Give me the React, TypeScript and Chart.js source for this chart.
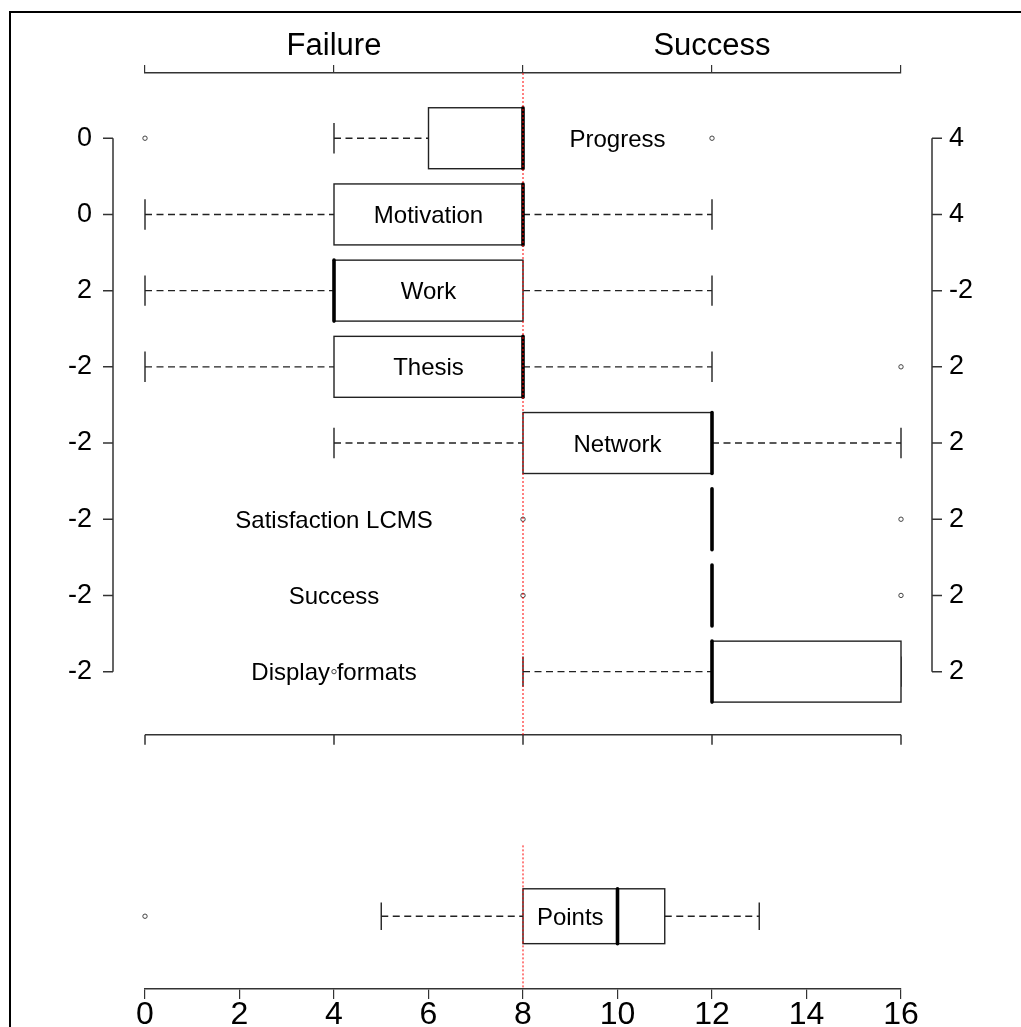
import React, { useEffect, useRef } from "react";
import { Chart, registerables } from "chart.js";

Chart.register(...registerables);

// ---------- data ----------
const categories = [
  "Progress",
  "Motivation",
  "Work",
  "Thesis",
  "Network",
  "Satisfaction LCMS",
  "Success",
  "Display formats",
];
const lowerWhisker = [4, 0, 0, 0, 4, 12, 12, 8];
const lowerQuartile = [6, 4, 4, 4, 8, 12, 12, 12];
const medians = [8, 8, 4, 8, 12, 12, 12, 12];
const upperQuartile = [8, 8, 8, 8, 12, 12, 12, 16];
const upperWhisker = [8, 12, 12, 12, 16, 12, 12, 16];
const outliers: number[][] = [[0, 12], [], [], [16], [], [8, 16], [8, 16], [4]];
const labelAt = [10, 6, 6, 6, 10, 4, 4, 4];
const leftTickLabels = ["0", "0", "2", "-2", "-2", "-2", "-2", "-2"];
const rightTickLabels = ["4", "4", "-2", "2", "2", "2", "2", "2"];

const pointsLabel = "Points";
const pointsStats = [5, 8, 10, 11, 13]; // lower whisker, Q1, median, Q3, upper whisker
const pointsOutliers = [0];
const pointsLabelAt = 9;

const groupLabels = ["Failure", "Success"];
const groupLabelValues = [4, 12];
const referenceValue = 8;

// ---------- layout constants ----------
const Y_MIN = -0.856;
const Y_MAX = 11.165;
const MID_AXIS_ROW = 7.83;
const POINTS_ROW = 10.21;
const RED_BOTTOM_START = 9.28;
const BOX_HALF = 0.4;
const POINTS_BOX_HALF = 0.36;
const FONT = '"Liberation Sans", Arial, sans-serif';

function drawBoxplot(
  ctx: CanvasRenderingContext2D,
  xs: any,
  ys: any,
  row: number,
  half: number,
  lo: number,
  q1: number,
  med: number,
  q3: number,
  hi: number
) {
  const px = (v: number) => xs.getPixelForValue(v);
  const cy = ys.getPixelForValue(row);
  const hh = Math.abs(ys.getPixelForValue(row + half) - cy);
  const line = (x1: number, y1: number, x2: number, y2: number) => {
    ctx.beginPath();
    ctx.moveTo(x1, y1);
    ctx.lineTo(x2, y2);
    ctx.stroke();
  };
  ctx.save();
  ctx.strokeStyle = "#222";
  ctx.lineWidth = 1.4;
  ctx.setLineDash([7, 4.5]);
  if (q1 > lo) line(px(lo), cy, px(q1), cy);
  if (hi > q3) line(px(q3), cy, px(hi), cy);
  ctx.setLineDash([]);
  line(px(lo), cy - hh / 2, px(lo), cy + hh / 2);
  line(px(hi), cy - hh / 2, px(hi), cy + hh / 2);
  if (q3 > q1) {
    ctx.fillStyle = "#fff";
    ctx.fillRect(px(q1), cy - hh, px(q3) - px(q1), 2 * hh);
    ctx.strokeRect(px(q1), cy - hh, px(q3) - px(q1), 2 * hh);
  }
  ctx.strokeStyle = "#000";
  ctx.lineWidth = 3.6;
  ctx.lineCap = "round";
  line(px(med), cy - hh, px(med), cy + hh);
  ctx.restore();
}

const customPlugin = {
  id: "rBoxplot",
  beforeDraw(chart: any) {
    const ctx: CanvasRenderingContext2D = chart.ctx;
    ctx.save();
    ctx.fillStyle = "#fff";
    ctx.fillRect(0, 0, chart.width, chart.height);
    ctx.strokeStyle = "#000";
    ctx.lineWidth = 2;
    ctx.beginPath();
    ctx.moveTo(10, chart.height);
    ctx.lineTo(10, 12);
    ctx.lineTo(chart.width, 12);
    ctx.stroke();
    ctx.restore();
  },
  beforeDatasetsDraw(chart: any) {
    const ctx: CanvasRenderingContext2D = chart.ctx;
    const xs = chart.scales.x;
    const ys = chart.scales.y;
    const area = chart.chartArea;

    categories.forEach((_, i) => {
      drawBoxplot(ctx, xs, ys, i, BOX_HALF, lowerWhisker[i], lowerQuartile[i], medians[i], upperQuartile[i], upperWhisker[i]);
    });
    drawBoxplot(ctx, xs, ys, POINTS_ROW, POINTS_BOX_HALF, pointsStats[0], pointsStats[1], pointsStats[2], pointsStats[3], pointsStats[4]);

    // labels
    ctx.save();
    ctx.fillStyle = "#000";
    ctx.font = `24px ${FONT}`;
    ctx.textAlign = "center";
    ctx.textBaseline = "middle";
    categories.forEach((c, i) => {
      ctx.fillText(c, xs.getPixelForValue(labelAt[i]), ys.getPixelForValue(i) + 2);
    });
    ctx.fillText(pointsLabel, xs.getPixelForValue(pointsLabelAt), ys.getPixelForValue(POINTS_ROW) + 2);
    ctx.restore();

    // middle axis
    ctx.save();
    ctx.strokeStyle = "#333";
    ctx.lineWidth = 1.5;
    const my = ys.getPixelForValue(MID_AXIS_ROW);
    ctx.beginPath();
    ctx.moveTo(xs.getPixelForValue(0), my);
    ctx.lineTo(xs.getPixelForValue(16), my);
    chart.scales.x2.ticks.forEach((t: any) => {
      const tx = xs.getPixelForValue(t.value);
      ctx.moveTo(tx, my);
      ctx.lineTo(tx, my + 10);
    });
    ctx.stroke();

    // left and right category axes
    const y0 = ys.getPixelForValue(0);
    const y7 = ys.getPixelForValue(categories.length - 1);
    const lx = area.left - 32;
    const rx = area.right + 31;
    ctx.beginPath();
    ctx.moveTo(lx, y0);
    ctx.lineTo(lx, y7);
    ctx.moveTo(rx, y0);
    ctx.lineTo(rx, y7);
    categories.forEach((_, i) => {
      const ty = ys.getPixelForValue(i);
      ctx.moveTo(lx - 10, ty);
      ctx.lineTo(lx, ty);
      ctx.moveTo(rx, ty);
      ctx.lineTo(rx + 10, ty);
    });
    ctx.stroke();
    ctx.restore();
  },
  afterDatasetsDraw(chart: any) {
    const ctx: CanvasRenderingContext2D = chart.ctx;
    const xs = chart.scales.x;
    const ys = chart.scales.y;
    const area = chart.chartArea;
    const rx = xs.getPixelForValue(referenceValue);
    ctx.save();
    ctx.strokeStyle = "#ff0000";
    ctx.lineWidth = 1;
    ctx.setLineDash([2, 2]);
    ctx.beginPath();
    ctx.moveTo(rx, area.top);
    ctx.lineTo(rx, ys.getPixelForValue(MID_AXIS_ROW));
    ctx.moveTo(rx, ys.getPixelForValue(RED_BOTTOM_START));
    ctx.lineTo(rx, area.bottom);
    ctx.stroke();
    ctx.restore();
  },
};

export default function App() {
  const ref = useRef<HTMLCanvasElement | null>(null);

  useEffect(() => {
    if (!ref.current) return;
    const outlierPoints: { x: number; y: number }[] = [];
    outliers.forEach((arr, i) => arr.forEach((v) => outlierPoints.push({ x: v, y: i })));
    pointsOutliers.forEach((v) => outlierPoints.push({ x: v, y: POINTS_ROW }));

    const fixVertical = (width: number) => (s: any) => {
      s.width = width;
      s.paddingTop = 0;
      s.paddingBottom = 0;
    };

    const chart = new Chart(ref.current, {
      type: "scatter",
      data: {
        datasets: [
          {
            label: "outliers",
            data: outlierPoints,
            pointStyle: "circle",
            pointRadius: 2.2,
            pointBorderWidth: 1,
            pointBorderColor: "#444",
            pointBackgroundColor: "rgba(0,0,0,0)",
            clip: false as any,
          },
        ],
      },
      options: {
        animation: false,
        responsive: false,
        events: [],
        layout: { padding: 0 },
        plugins: { legend: { display: false }, tooltip: { enabled: false } },
        scales: {
          x: {
            type: "linear",
            position: "bottom",
            min: 0,
            max: 16,
            afterFit: (s: any) => {
              s.height = 38;
            },
            ticks: {
              stepSize: 2,
              autoSkip: false,
              maxRotation: 0,
              color: "#000",
              padding: 0,
              font: { family: FONT, size: 32, lineHeight: 1 },
            },
            grid: { display: true, drawOnChartArea: false, drawTicks: true, tickLength: 10, color: "#333", lineWidth: 1.2 },
            border: { display: true, color: "#333", width: 1.5 },
          },
          x2: {
            type: "linear",
            position: "top",
            min: 0,
            max: 16,
            afterFit: (s: any) => {
              s.height = 73;
            },
            ticks: {
              stepSize: 4,
              autoSkip: false,
              maxRotation: 0,
              color: "#000",
              padding: 3,
              font: { family: FONT, size: 31, lineHeight: 1 },
              callback: (v: any) => {
                const k = groupLabelValues.indexOf(Number(v));
                return k >= 0 ? groupLabels[k] : "";
              },
            },
            grid: { display: true, drawOnChartArea: false, drawTicks: true, tickLength: 8, color: "#333", lineWidth: 1.2 },
            border: { display: true, color: "#333", width: 1.5 },
          },
          y: {
            type: "linear",
            position: "left",
            reverse: true,
            min: Y_MIN,
            max: Y_MAX,
            afterFit: fixVertical(145),
            afterBuildTicks: (s: any) => {
              s.ticks = categories.map((_, i) => ({ value: i }));
            },
            ticks: {
              autoSkip: false,
              color: "#000",
              padding: 53,
              font: { family: FONT, size: 27 },
              callback: (v: any) => leftTickLabels[Number(v)] ?? "",
            },
            grid: { display: false, drawTicks: false },
            border: { display: false },
          },
          y2: {
            type: "linear",
            position: "right",
            reverse: true,
            min: Y_MIN,
            max: Y_MAX,
            afterFit: fixVertical(120),
            afterBuildTicks: (s: any) => {
              s.ticks = categories.map((_, i) => ({ value: i }));
            },
            ticks: {
              autoSkip: false,
              color: "#000",
              padding: 48,
              font: { family: FONT, size: 27 },
              callback: (v: any) => rightTickLabels[Number(v)] ?? "",
            },
            grid: { display: false, drawTicks: false },
            border: { display: false },
          },
        },
      } as any,
      plugins: [customPlugin],
    });
    return () => chart.destroy();
  }, []);

  return (
    <canvas
      ref={ref}
      width={1021}
      height={1027}
      style={{ position: "absolute", left: 0, top: 0, display: "block" }}
    />
  );
}
